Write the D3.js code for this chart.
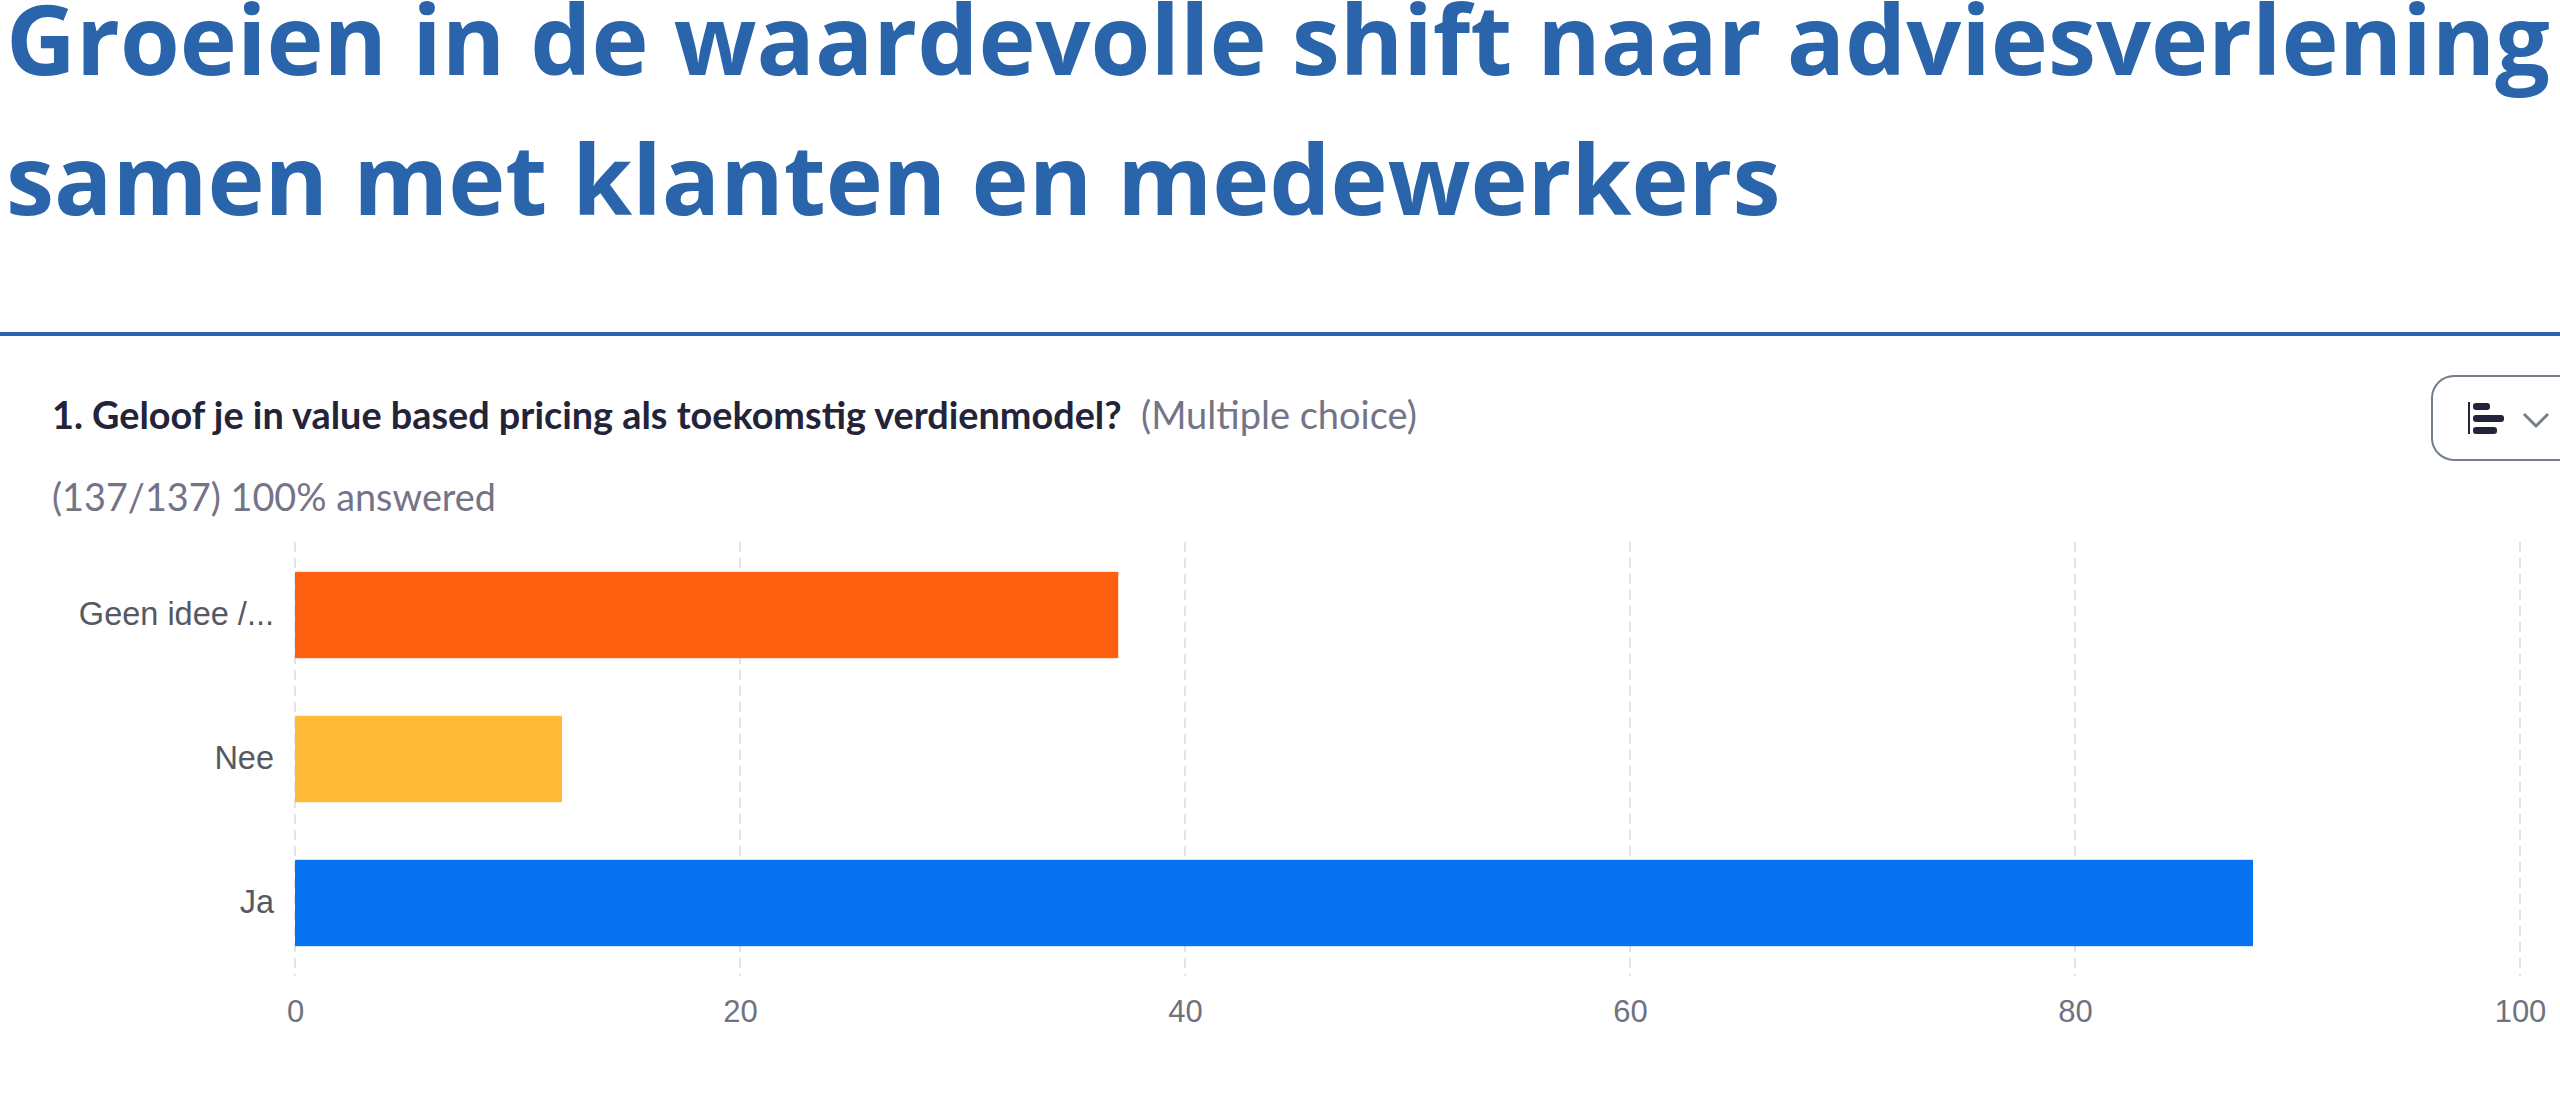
<!DOCTYPE html>
<html>

<head>
    <title>Value based pricing</title>
    <style>
        body { margin: 0; background: #fff; }
        svg { display: block; }
    </style>
    <script src="https://cdn.jsdelivr.net/npm/d3@7"></script>
</head>

<body>
    <div id="chart"></div>
    <script>
        const titleLines = ["Groeien in de waardevolle shift naar adviesverlening", "samen met klanten en medewerkers"];
        const question = "1. Geloof je in value based pricing als toekomstig verdienmodel?";
        const questionType = "(Multiple choice)";
        const answered = "(137/137) 100% answered";
        const categories = ["Geen idee /...", "Nee", "Ja"];
        const values = [37, 12, 88];
        const colors = ["#ff6010", "#ffbb38", "#0773f0"];
        const xTicks = [0, 20, 40, 60, 80, 100];

        const svg = d3.select("#chart").append("svg")
            .attr("width", 2560)
            .attr("height", 1100);

        // heading, the top of the first line touches the page edge like the original
        svg.selectAll(".title")
            .data(titleLines)
            .enter().append("text")
            .attr("class", "title")
            .attr("x", 6)
            .attr("y", (d, i) => 75 + i * 140)
            .attr("font-family", "Open Sans")
            .attr("font-weight", 700)
            .attr("font-size", 96.7)
            .attr("fill", "#2a64aa")
            .text(d => d);

        svg.append("rect")
            .attr("x", 0).attr("y", 332)
            .attr("width", 2560).attr("height", 4)
            .attr("fill", "#2a64aa");

        // question header
        svg.append("text")
            .attr("x", 52).attr("y", 429)
            .attr("font-family", "Lato")
            .attr("font-weight", 700)
            .attr("font-size", 37.8)
            .attr("fill", "#23233a")
            .text(question);

        svg.append("text")
            .attr("x", 1141).attr("y", 429)
            .attr("font-family", "Lato")
            .attr("font-size", 38)
            .attr("fill", "#747487")
            .text(questionType);

        svg.append("text")
            .attr("x", 52).attr("y", 511)
            .attr("font-family", "Lato")
            .attr("font-size", 37.8)
            .attr("fill", "#747487")
            .text(answered);

        // chart type button, runs off the right edge
        svg.append("rect")
            .attr("x", 2432).attr("y", 376)
            .attr("width", 180).attr("height", 84)
            .attr("rx", 22)
            .attr("fill", "none")
            .attr("stroke", "#747f8c")
            .attr("stroke-width", 2);

        const icon = svg.append("g").attr("fill", "#23233a");
        icon.append("rect").attr("x", 2468).attr("y", 402).attr("width", 2).attr("height", 32);
        icon.append("rect").attr("x", 2473).attr("y", 403).attr("width", 17).attr("height", 7).attr("rx", 3);
        icon.append("rect").attr("x", 2473).attr("y", 415).attr("width", 31).attr("height", 7).attr("rx", 3);
        icon.append("rect").attr("x", 2473).attr("y", 427).attr("width", 24).attr("height", 7).attr("rx", 3);

        svg.append("path")
            .attr("d", "M2524,414L2536,426L2548,414")
            .attr("fill", "none")
            .attr("stroke", "#747f8c")
            .attr("stroke-width", 3);

        // scales
        const x = d3.scaleLinear()
            .domain([0, 100])
            .range([295, 2520]);

        const y = d3.scaleBand()
            .domain(categories)
            .range([543, 975])
            .paddingInner(0.4)
            .paddingOuter(0.2);

        // grid lines
        svg.append("g")
            .selectAll("line")
            .data(xTicks)
            .enter().append("line")
            .attr("x1", d => x(d))
            .attr("x2", d => x(d))
            .attr("y1", 542)
            .attr("y2", 976)
            .attr("stroke", "#dfe4f3")
            .attr("stroke-width", 2)
            .attr("stroke-dasharray", "10 6");

        // bars
        svg.append("g")
            .selectAll("rect")
            .data(categories)
            .enter().append("rect")
            .attr("x", x(0))
            .attr("y", d => y(d))
            .attr("width", (d, i) => x(values[i]) - x(0))
            .attr("height", y.bandwidth())
            .attr("fill", (d, i) => colors[i]);

        // axes
        const xAxis = svg.append("g")
            .attr("transform", "translate(0,976)")
            .call(d3.axisBottom(x).tickValues(xTicks).tickSize(0).tickPadding(24));
        xAxis.select(".domain").remove();
        xAxis.selectAll("text")
            .attr("font-family", "Liberation Sans")
            .attr("font-size", 31)
            .attr("fill", "#6f7280");

        const yAxis = svg.append("g")
            .attr("transform", "translate(295,0)")
            .call(d3.axisLeft(y).tickSize(0).tickPadding(21));
        yAxis.select(".domain").remove();
        yAxis.selectAll("text")
            .attr("font-family", "Liberation Sans")
            .attr("font-size", 32.5)
            .attr("fill", "#555963");
    </script>
</body>

</html>
